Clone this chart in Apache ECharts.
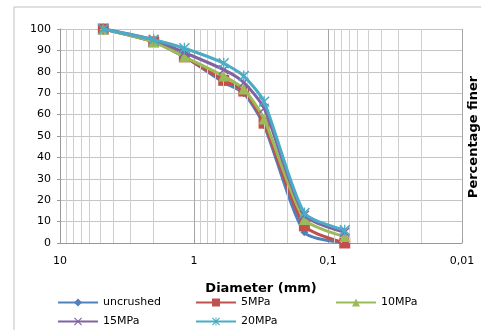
<!DOCTYPE html>
<html>
<head>
<meta charset="utf-8">
<script src="https://cdn.jsdelivr.net/npm/echarts@6/dist/echarts.min.js"></script>
<style>
  html, body { margin: 0; padding: 0; background: #fff; }
  #chart { width: 481px; height: 330px; }
</style>
</head>
<body>
<div id="chart"></div>
<script>
// sieve sizes (mm)
const diameters = [4.75, 2, 1.18, 0.6, 0.425, 0.3, 0.15, 0.075];

const uncrushed = [100, 94, 87, 75, 70, 55, 5, 0];
const mpa5 = [100, 94, 87, 76, 71, 56, 8, 0];
const mpa10 = [100, 94, 87, 78, 72, 58, 11, 3];
const mpa15 = [100, 95, 89, 81, 75, 63, 13, 5];
const mpa20 = [100, 95, 91, 84, 78, 66, 14, 6];

const seriesNames = ["uncrushed", "5MPa", "10MPa", "15MPa", "20MPa"];
const xTickLabels = { "10": "10", "1": "1", "0.1": "0,1", "0.01": "0,01" };
const minorGrid = [9, 8, 7, 6, 5, 4, 3, 2, 0.9, 0.8, 0.7, 0.6, 0.5, 0.4, 0.3, 0.2,
                   0.09, 0.08, 0.07, 0.06, 0.05, 0.04, 0.03, 0.02];

const colors = ["#4F81BD", "#C0504D", "#9BBB59", "#8064A2", "#4BACC6"];
const crossPath = "path://M1,0L5,4L9,0L10,1L6,5L10,9L9,10L5,6L1,10L0,9L4,5L0,1Z";
const starPath = "path://M1,0L5,4L9,0L10,1L6,5L10,9L9,10L5,6L1,10L0,9L4,5L0,1Z M4.4,0L5.6,0L5.6,10L4.4,10Z";
const symbols = ["diamond", "rect", "triangle", crossPath, starPath];
const symbolSizes = [8, 11, 11, 10, 11];
const values = [uncrushed, mpa5, mpa10, mpa15, mpa20];

const font = "DejaVu Sans";

const chart = echarts.init(document.getElementById("chart"), null, { renderer: "canvas" });

const dataSeries = seriesNames.map((name, i) => ({
    name,
    type: "line",
    smooth: 0.22,
    data: diameters.map((d, j) => [d, values[i][j]]),
    symbol: symbols[i],
    symbolSize: symbolSizes[i],
    lineStyle: { color: colors[i], width: 3 },
    itemStyle: { color: colors[i] },
    z: 3 + i,
}));

const gridSeries = {
    name: "grid",
    type: "line",
    data: [],
    silent: true,
    z: 1,
    markLine: {
        silent: true,
        symbol: "none",
        label: { show: false },
        lineStyle: { color: "#cfcfcf", width: 1, type: "solid" },
        data: minorGrid.map((v) => ({ xAxis: v })),
    },
};

const legendPos = [
    { left: 57, top: 297 },
    { left: 195, top: 297 },
    { left: 335, top: 297 },
    { left: 57, top: 316 },
    { left: 195, top: 316 },
];

chart.setOption({
    animation: false,
    textStyle: { fontFamily: font },
    grid: { left: 60, right: 19, top: 29, bottom: 87 },
    graphic: [
        {
            type: "rect",
            shape: { x: 14, y: 7, width: 520, height: 400 },
            style: { fill: "none", stroke: "#bfbfbf", lineWidth: 1 },
            z: -1,
        },
        {
            type: "text",
            x: 474,
            y: 137,
            rotation: Math.PI / 2,
            style: {
                text: "Percentage finer",
                font: "bold 13px " + font,
                fill: "#000",
                align: "center",
                verticalAlign: "middle",
            },
        },
    ],
    legend: seriesNames.map((name, i) => ({
        data: [name],
        left: legendPos[i].left,
        top: legendPos[i].top,
        itemWidth: 40,
        itemHeight: 10,
        itemGap: 4,
        textStyle: { fontFamily: font, fontSize: 11, color: "#000" },
        selectedMode: false,
        padding: 0,
    })),
    xAxis: {
        type: "log",
        logBase: 10,
        min: 0.01,
        max: 10,
        inverse: true,
        name: "Diameter (mm)",
        nameLocation: "middle",
        nameGap: 39,
        nameTextStyle: { fontFamily: font, fontSize: 13, fontWeight: "bold", color: "#000" },
        axisLine: { lineStyle: { color: "#999" } },
        axisTick: { show: true, inside: true, length: 4, lineStyle: { color: "#999" } },
        axisLabel: {
            margin: 13,
            fontSize: 11,
            color: "#000",
            formatter: (v) => xTickLabels[String(+v.toPrecision(3))] ?? String(v),
        },
        splitLine: { show: true, lineStyle: { color: "#a6a6a6", width: 1 } },
    },
    yAxis: {
        type: "value",
        min: 0,
        max: 100,
        interval: 10,
        axisLine: { show: true, lineStyle: { color: "#999" } },
        axisTick: { show: true, length: 3, lineStyle: { color: "#999" } },
        axisLabel: { fontSize: 11, color: "#000", margin: 9 },
        splitLine: { show: true, lineStyle: { color: "#c4c4c4", width: 1 } },
    },
    series: [gridSeries, ...dataSeries],
});
</script>
</body>
</html>
